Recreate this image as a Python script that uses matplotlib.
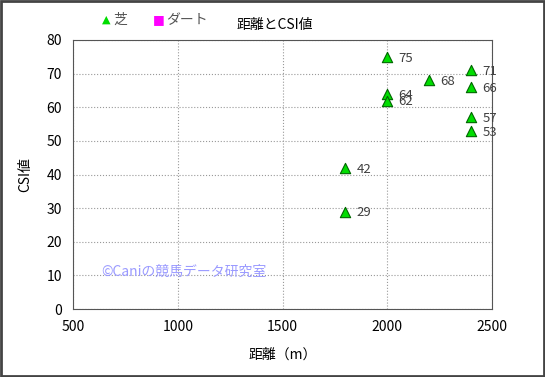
import matplotlib.pyplot as plt
from matplotlib.patches import Rectangle

plt.rcParams['font.family'] = ['Noto Sans CJK JP', 'DejaVu Sans']

# 芝 (turf) races: distance vs CSI
distance = [1800, 1800, 2000, 2000, 2000, 2200, 2400, 2400, 2400, 2400]
csi = [29, 42, 75, 64, 62, 68, 71, 66, 57, 53]
# ダート (dirt): no points shown
dirt_distance = []
dirt_csi = []

fig = plt.figure(figsize=(5.45, 3.77), dpi=100)
ax = fig.add_axes([0.134, 0.18, 0.769, 0.714])

ax.scatter(distance, csi, marker='^', s=55, color='#00dd00', edgecolors='#006600',
           linewidths=0.8, zorder=3)
ax.scatter(dirt_distance, dirt_csi, marker='s', s=40, color='#ff00ff', zorder=3)
for x, y in zip(distance, csi):
    ax.annotate(str(y), (x, y), xytext=(8, -1), textcoords='offset points',
                fontsize=9.5, color='#404040', va='center')

ax.set_xlim(500, 2500)
ax.set_ylim(0, 80)
ax.set_xticks(range(500, 2501, 500))
ax.set_yticks(range(0, 81, 10))
ax.grid(True, linestyle=':', color='#999999', linewidth=0.8)
ax.tick_params(length=0, labelsize=10, pad=8)
for s in ax.spines.values():
    s.set_color('#555555')
ax.set_axisbelow(True)

ax.set_xlabel('距離（m）', fontsize=10, labelpad=10)
ax.set_ylabel('CSI値', fontsize=10, labelpad=10)
fig.text(0.505, 0.935, '距離とCSI値', ha='center', va='center', fontsize=10)

# legend at top
fig.text(0.187, 0.948, '▲', color='#00dd00', fontsize=8, ha='left', va='center',
         family=['DejaVu Sans'])
fig.text(0.207, 0.948, '芝', color='#555555', fontsize=10, ha='left', va='center')
fig.text(0.281, 0.948, '■', color='#ff00ff', fontsize=9, ha='left', va='center',
         family=['DejaVu Sans'])
fig.text(0.304, 0.948, 'ダート', color='#555555', fontsize=10, ha='left', va='center')

fig.text(0.185, 0.278, '©Caniの競馬データ研究室', color='#9a9aff', fontsize=10,
         ha='left', va='center')

fig.patches.append(Rectangle((0.002, 0.003), 0.996, 0.994, transform=fig.transFigure,
                             fill=False, edgecolor='#444444', linewidth=2))

fig.savefig('out.png', dpi=100)
